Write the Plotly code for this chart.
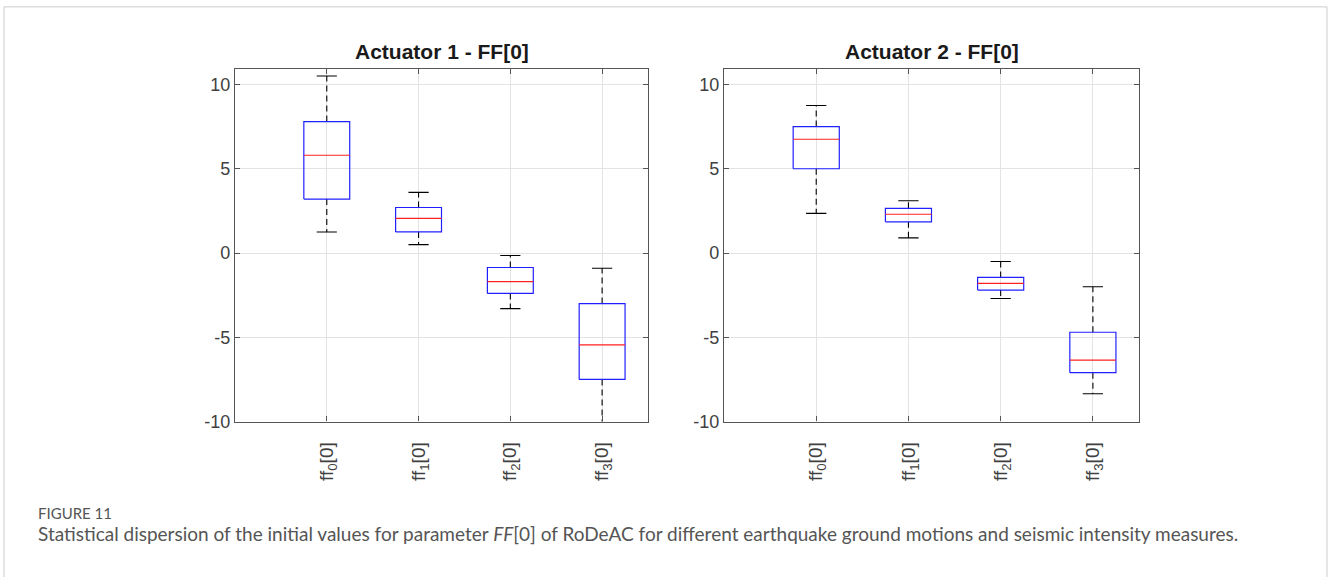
import plotly.graph_objects as go

# ---- data ----
categories = ["ff<sub>0</sub>[0]", "ff<sub>1</sub>[0]", "ff<sub>2</sub>[0]", "ff<sub>3</sub>[0]"]
titles = ["Actuator 1 - FF[0]", "Actuator 2 - FF[0]"]

act1_min = [1.25, 0.5, -3.3, -10.4]
act1_q1 = [3.2, 1.25, -2.4, -7.5]
act1_med = [5.8, 2.05, -1.7, -5.45]
act1_q3 = [7.8, 2.7, -0.86, -3.0]
act1_max = [10.5, 3.6, -0.15, -0.9]

act2_min = [2.35, 0.9, -2.7, -8.35]
act2_q1 = [5.0, 1.85, -2.2, -7.1]
act2_med = [6.75, 2.3, -1.8, -6.35]
act2_q3 = [7.5, 2.65, -1.45, -4.7]
act2_max = [8.75, 3.1, -0.5, -2.0]

y_ticks = [-10, -5, 0, 5, 10]

caption_label = "FIGURE 11"
caption_text = ("Statistical dispersion of the initial values for parameter <i>FF</i>[0] of RoDeAC "
                "for different earthquake ground motions and seismic intensity measures.")

# ---- figure ----
W, H = 1328, 577
fig = go.Figure()

BOX_HW = 0.25
CAP_HW = 0.11

def add_boxes(xref, yref, mins, q1s, meds, q3s, maxs):
    bx, by, mx, my, wx, wy, cx, cy = [], [], [], [], [], [], [], []
    for i in range(len(categories)):
        p = i + 1
        bx += [p - BOX_HW, p + BOX_HW, p + BOX_HW, p - BOX_HW, p - BOX_HW, None]
        by += [q1s[i], q1s[i], q3s[i], q3s[i], q1s[i], None]
        mx += [p - BOX_HW, p + BOX_HW, None]
        my += [meds[i], meds[i], None]
        wx += [p, p, None, p, p, None]
        wy += [q3s[i], maxs[i], None, q1s[i], mins[i], None]
        cx += [p - CAP_HW, p + CAP_HW, None, p - CAP_HW, p + CAP_HW, None]
        cy += [maxs[i], maxs[i], None, mins[i], mins[i], None]
    common = dict(xaxis=xref, yaxis=yref, mode="lines", hoverinfo="skip", showlegend=False)
    fig.add_trace(go.Scatter(x=wx, y=wy, line=dict(color="black", width=1.1, dash="6px,4px"), **common))
    fig.add_trace(go.Scatter(x=cx, y=cy, line=dict(color="black", width=1.1), **common))
    fig.add_trace(go.Scatter(x=bx, y=by, line=dict(color="#2020ff", width=1.2), **common))
    fig.add_trace(go.Scatter(x=mx, y=my, line=dict(color="#ff2020", width=1.2), **common))

add_boxes("x", "y", act1_min, act1_q1, act1_med, act1_q3, act1_max)
add_boxes("x2", "y2", act2_min, act2_q1, act2_med, act2_q3, act2_max)

ydom = [1 - 429 / H, 1 - 70 / H]
xdom1 = [235 / W, 648 / W]
xdom2 = [724 / W, 1139 / W]

FONT = "Liberation Sans, Arial, Helvetica, sans-serif"
tick_font = dict(family=FONT, size=18, color="#404040")
axis_common = dict(
    showline=True, linecolor="#555555", linewidth=1.2, mirror="allticks",
    ticks="inside", ticklen=5, tickcolor="#555555",
    showgrid=True, gridcolor="#e3e3e3", gridwidth=1, zeroline=False,
    tickfont=tick_font,
)
xaxis_common = dict(axis_common, range=[0, 4.5], tickmode="array",
                    tickvals=[1, 2, 3, 4], ticktext=categories, tickangle=-90,
                    tickfont=dict(family=FONT, size=19, color="#404040"),
                    ticklabelstandoff=12)
yaxis_common = dict(axis_common, range=[-10, 10.93], tickmode="array",
                    tickvals=y_ticks, ticktext=[str(v) for v in y_ticks])

fig.update_layout(
    width=W, height=H,
    margin=dict(l=0, r=0, t=0, b=0),
    paper_bgcolor="white", plot_bgcolor="white",
    xaxis=dict(xaxis_common, domain=xdom1, anchor="y"),
    yaxis=dict(yaxis_common, domain=ydom, anchor="x"),
    xaxis2=dict(xaxis_common, domain=xdom2, anchor="y2"),
    yaxis2=dict(yaxis_common, domain=ydom, anchor="x2"),
)

title_font = dict(family=FONT, size=21, color="#1a1a1a")
for t, dom in zip(titles, [xdom1, xdom2]):
    fig.add_annotation(text="<b>" + t + "</b>", xref="paper", yref="paper",
                       x=(dom[0] + dom[1]) / 2, y=1 - 52 / H, xanchor="center", yanchor="middle",
                       showarrow=False, font=title_font)

# outer frame
fig.add_shape(type="rect", xref="paper", yref="paper",
              x0=4 / W, x1=1327 / W, y0=-0.05, y1=1 - 7 / H,
              line=dict(color="#cccccc", width=1))

fig.add_annotation(text=caption_label, xref="paper", yref="paper",
                   x=36 / W, y=1 - 522 / H, xanchor="left", yanchor="middle", showarrow=False,
                   font=dict(family="Lato, Open Sans, sans-serif", size=15, color="#555555"))
fig.add_annotation(text=caption_text, xref="paper", yref="paper",
                   x=36 / W, y=1 - 543 / H, xanchor="left", yanchor="middle", showarrow=False,
                   font=dict(family="Lato, Open Sans, sans-serif", size=19, color="#555555"))

fig.write_html("out.html")
